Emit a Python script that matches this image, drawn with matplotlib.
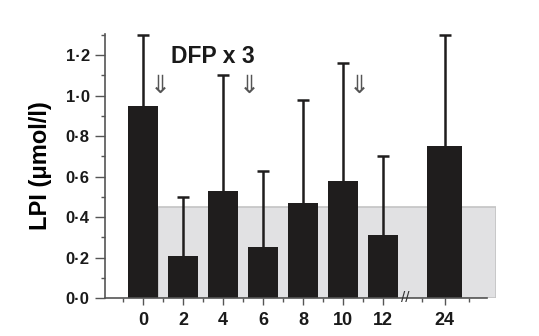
import matplotlib
matplotlib.use('Agg')
import matplotlib.pyplot as plt
from matplotlib.patches import Rectangle

# hours after first dose, mean LPI and SD (upper bar only)
horas = ['0', '2', '4', '6', '8', '10', '12', '24']
lpi = [0.95, 0.21, 0.53, 0.25, 0.47, 0.58, 0.31, 0.75]
desvio = [0.35, 0.29, 0.57, 0.38, 0.51, 0.58, 0.39, 0.55]
limite_normal = 0.45
y_ticks = [0.0, 0.2, 0.4, 0.6, 0.8, 1.0, 1.2]
y_labels = ['0·0', '0·2', '0·4', '0·6', '0·8', '1·0', '1·2']

# x positions on the broken axis (12 -> 24 gap)
posicoes = [0, 1, 2, 3, 4, 5, 6, 7.55]
larguras = [0.75] * 7 + [0.875]
setas_x = [0.43, 2.65, 5.4]

plt.rcParams['font.family'] = ['Liberation Sans', 'DejaVu Sans']
plt.rcParams['font.weight'] = 'bold'

fig = plt.figure(figsize=(5.39, 3.36), dpi=100)
ax = fig.add_axes([105 / 539, 38 / 336, 391 / 539, 264 / 336])

cor_barra = '#1f1d1d'
cor_eixo = '#555555'

# faixa normal (cinza)
ax.add_patch(Rectangle((0.375, 0), 8.83 - 0.375, limite_normal,
                       facecolor='#e1e1e3', edgecolor='#c4c4c4', lw=1.2, zorder=0))

ax.bar(posicoes, lpi, width=larguras, color=cor_barra, zorder=2)
_, caps, _ = ax.errorbar(posicoes, lpi, yerr=[[0] * len(lpi), desvio], fmt='none',
                         ecolor=cor_barra, elinewidth=1.8, capsize=4, capthick=1.8,
                         zorder=3)
caps[0].set_visible(False)

for x in setas_x:
    ax.text(x, 1.05, '⇓', ha='center', va='center', fontsize=18,
            color='#555555', fontweight='normal', family='DejaVu Sans', zorder=4)
ax.text(1.75, 1.195, 'DFP x 3', ha='center', va='center', fontsize=16.5,
        fontweight='bold', color='#1a1a1a')

# marca de quebra no eixo x
ax.text(6.55, 0.0, '//', ha='center', va='center', fontsize=11,
        color='#333333', fontweight='normal', zorder=5)

ax.set_xlim(-0.95, 8.83)
ax.set_ylim(0, 1.305)

ax.set_xticks(posicoes)
ax.set_xticklabels(horas, fontsize=13, fontweight='bold')
ax.set_xticks([-0.5, 0.5, 1.5, 2.5, 3.5, 4.5, 5.5, 6.97, 8.15], minor=True)
ax.set_yticks(y_ticks)
ax.set_yticklabels(y_labels, fontsize=12, fontweight='bold')
ax.set_yticks([0.1, 0.3, 0.5, 0.7, 0.9, 1.1, 1.3], minor=True)

ax.tick_params(axis='both', which='major', length=5, width=1, color=cor_eixo,
               labelcolor='#1a1a1a')
ax.tick_params(axis='y', which='major', length=7, pad=4)
ax.tick_params(axis='both', which='minor', length=3, width=1, color=cor_eixo)
ax.tick_params(axis='x', which='major', pad=5)

ax.spines['top'].set_visible(False)
ax.spines['right'].set_visible(False)
ax.spines['left'].set_color(cor_eixo)
ax.spines['bottom'].set_color(cor_eixo)
ax.spines['left'].set_linewidth(1.2)
ax.spines['bottom'].set_linewidth(1.2)
ax.spines['bottom'].set_bounds(-0.95, 8.6)

ax.set_ylabel('LPI (μmol/l)', fontsize=17, fontweight='bold', labelpad=10)

fig.savefig('out.png', dpi=100)
